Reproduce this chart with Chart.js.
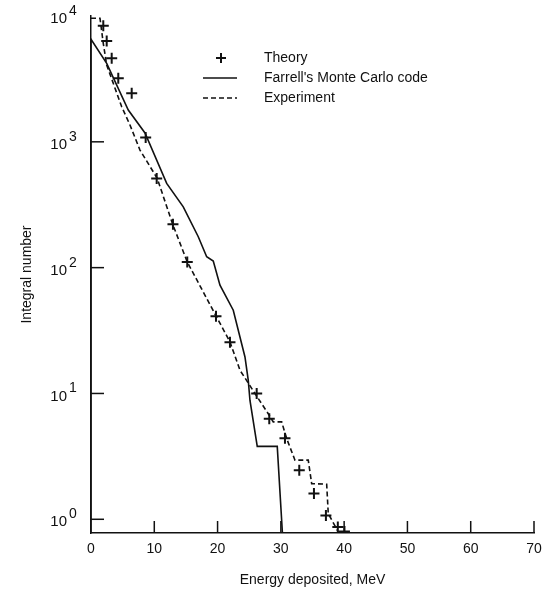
<!DOCTYPE html>
<html>
<head>
<meta charset="utf-8">
<script src="https://cdn.jsdelivr.net/npm/chart.js@4.4.0/dist/chart.umd.min.js"></script>
<style>
    html, body { margin: 0; padding: 0; background: #fff; }
    #wrap { width: 543px; height: 594px; }
</style>
</head>
<body>
<div id="wrap"><canvas id="chart" width="543" height="594"></canvas></div>
<script>
/* =========================
   Data
========================= */
const theoryX = [1.94, 2.48, 3.27, 4.31, 6.43, 8.64, 10.38, 12.95, 15.21, 19.75, 21.96, 26.18, 28.17, 30.65, 32.91, 35.23, 37.12, 39.0, 40.05];
const theoryY = [8370, 6325, 4610, 3200, 2430, 1080, 512, 221, 111, 41, 25.5, 10, 6.3, 4.4, 2.45, 1.6, 1.07, 0.87, 0.8];

const monteCarloX = [0, 0, 2.48, 5.89, 8.53, 11.96, 14.58, 16.95, 18.28, 19.32, 20.38, 22.48, 24.33, 24.85, 25.12, 26.27, 29.43, 30.38];
const monteCarloY = [0.6, 6530, 4200, 1790, 1175, 467, 304, 176, 122, 113, 72.6, 45.9, 19.5, 12.7, 8.8, 3.8, 3.8, 0.6];

const experimentX = [0, 1.42, 1.94, 2.48, 4.85, 6.16, 7.74, 10.47, 12.91, 15.21, 19.75, 21.96, 23.54, 25.91, 28.01, 28.8, 30.13, 30.92, 32.23, 34.33, 34.87, 37.24, 37.49, 38.75, 39.65];
const experimentY = [9590, 9590, 6070, 4075, 1900, 1360, 860, 512, 221, 111, 41.4, 25.7, 15.3, 10, 6.9, 5.94, 5.94, 4.38, 2.95, 2.95, 1.92, 1.9, 1.11, 0.85, 0.7];

const xTicks = [0, 10, 20, 30, 40, 50, 60, 70];
const yDecades = [1, 10, 100, 1000, 10000];
const legendLabels = ["Theory", "Farrell's Monte Carlo code", "Experiment"];

const INK = "#111";
const FONT = "Liberation Sans, Arial, Helvetica, sans-serif";

function toPoints(xs, ys) {
    return xs.map((x, i) => ({ x: x, y: ys[i] }));
}

/* =========================
   Custom axis ticks, labels, legend
========================= */
const decorPlugin = {
    id: "decor",
    afterDraw(chart) {
        const ctx = chart.ctx;
        const xs = chart.scales.x;
        const ys = chart.scales.y;
        const area = chart.chartArea;

        ctx.save();
        ctx.strokeStyle = INK;
        ctx.fillStyle = INK;
        ctx.lineWidth = 1.5;

        // inward x ticks
        xTicks.forEach(v => {
            if (v === 0) return;
            const px = xs.getPixelForValue(v);
            ctx.beginPath();
            ctx.moveTo(px, area.bottom);
            ctx.lineTo(px, area.bottom - 12);
            ctx.stroke();
        });

        // inward y ticks + 10^n labels
        yDecades.forEach((v, i) => {
            const py = ys.getPixelForValue(v);
            if (v < 10000) {
                ctx.beginPath();
                ctx.moveTo(area.left, py);
                ctx.lineTo(area.left + 13, py);
                ctx.stroke();
            }
            ctx.textBaseline = "middle";
            ctx.font = "15px " + FONT;
            ctx.textAlign = "right";
            ctx.fillText("10", 67, py + 3);
            ctx.font = "14px " + FONT;
            ctx.textAlign = "left";
            ctx.fillText(String(i), 69, py - 5);
        });

        // legend
        const lx = 264;
        const rows = [58, 78, 98];
        ctx.font = "14px " + FONT;
        ctx.textAlign = "left";
        ctx.textBaseline = "middle";
        legendLabels.forEach((t, i) => ctx.fillText(t, lx, rows[i]));

        ctx.lineWidth = 2;
        ctx.beginPath();
        ctx.moveTo(216, rows[0]);
        ctx.lineTo(226, rows[0]);
        ctx.moveTo(221, rows[0] - 5);
        ctx.lineTo(221, rows[0] + 5);
        ctx.stroke();

        ctx.lineWidth = 1.5;
        ctx.beginPath();
        ctx.moveTo(203, rows[1]);
        ctx.lineTo(237, rows[1]);
        ctx.stroke();

        ctx.setLineDash([5, 3]);
        ctx.beginPath();
        ctx.moveTo(203, rows[2]);
        ctx.lineTo(237, rows[2]);
        ctx.stroke();
        ctx.restore();
    }
};

/* =========================
   Chart
========================= */
new Chart(document.getElementById("chart"), {
    type: "scatter",
    data: {
        datasets: [
            {
                label: legendLabels[0],
                data: toPoints(theoryX, theoryY),
                showLine: false,
                pointStyle: "cross",
                pointRadius: 5.5,
                borderColor: INK,
                borderWidth: 2
            },
            {
                label: legendLabels[1],
                data: toPoints(monteCarloX, monteCarloY),
                showLine: true,
                pointRadius: 0,
                borderColor: INK,
                borderWidth: 1.6,
                tension: 0
            },
            {
                label: legendLabels[2],
                data: toPoints(experimentX, experimentY),
                showLine: true,
                pointRadius: 0,
                borderColor: INK,
                borderWidth: 1.6,
                borderDash: [5, 3],
                tension: 0
            }
        ]
    },
    options: {
        responsive: false,
        animation: false,
        events: [],
        layout: { padding: { left: 0, right: 9, top: 16, bottom: 0 } },
        plugins: {
            legend: { display: false },
            tooltip: { enabled: false }
        },
        scales: {
            x: {
                type: "linear",
                min: 0,
                max: 70,
                afterBuildTicks: scale => {
                    scale.ticks = xTicks.map(v => ({ value: v }));
                },
                afterFit: scale => {
                    scale.height = 61;
                    scale.paddingLeft = 0;
                    scale.paddingRight = 0;
                },
                grid: { display: false, drawTicks: false },
                border: { display: true, color: INK, width: 1.5 },
                ticks: {
                    color: INK,
                    padding: 8,
                    maxRotation: 0,
                    font: { size: 14, family: FONT }
                },
                title: {
                    display: true,
                    text: "Energy deposited, MeV",
                    color: INK,
                    padding: { top: 0, bottom: 5.6 },
                    font: { size: 14, family: FONT }
                }
            },
            y: {
                type: "logarithmic",
                min: 0.778,
                max: 10000,
                afterFit: scale => {
                    scale.width = 91;
                    scale.paddingTop = 0;
                    scale.paddingBottom = 0;
                },
                grid: { display: false, drawTicks: false },
                border: { display: true, color: INK, width: 1.5 },
                ticks: { display: false },
                title: {
                    display: true,
                    text: "Integral number",
                    color: INK,
                    padding: { top: 18.6, bottom: 0 },
                    font: { size: 14, family: FONT }
                }
            }
        }
    },
    plugins: [decorPlugin]
});
</script>
</body>
</html>
